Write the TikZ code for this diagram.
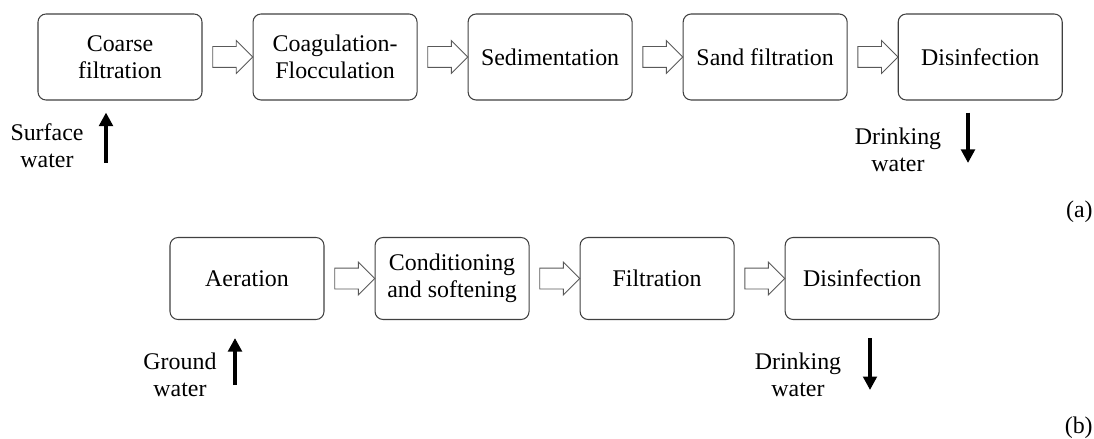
\documentclass[tikz,border=0pt]{standalone}
\usepackage{fontspec}
\setmainfont{Liberation Serif}
\usepackage{tikz}
\usetikzlibrary{arrows.meta, positioning, calc, shapes.arrows}

\begin{document}
\begin{tikzpicture}[
    stage/.style={draw=black!75, rounded corners=0.16cm, minimum width=3.28cm, minimum height=1.72cm,
                  align=center, line width=0.6pt, inner sep=0pt},
    stageb/.style={stage, minimum width=3.08cm, minimum height=1.64cm},
    flowarrow/.style={single arrow, draw=black!65, line width=0.5pt, minimum height=0.8cm,
                      inner xsep=0pt, inner ysep=0.2cm, single arrow head extend=0.12cm},
    waterarrow/.style={-{Triangle[width=0.27cm, length=0.27cm]}, line width=2.4pt, black},
    lbl/.style={align=center, inner sep=0pt},
    font=\fontsize{13.6}{15.5}\selectfont,
]
\useasboundingbox (0,0) rectangle (21.88,-8.78);

% --- Row (a): surface water ---
\node[stage] (coarse) at (2.40,-1.14) {Coarse\\filtration};
\node[stage, right=1cm of coarse] (coag) {Coagulation-\\Flocculation};
\node[stage, right=1cm of coag]   (sedi) {Sedimentation};
\node[stage, right=1cm of sedi]   (sand) {Sand filtration};
\node[stage, right=1cm of sand]   (disa) {Disinfection};

\node[flowarrow] (fa1) at ($(coarse.east)!0.5!(coag.west)$) {};
\node[flowarrow] (fa2) at ($(coag.east)!0.5!(sedi.west)$) {};
\node[flowarrow] (fa3) at ($(sedi.east)!0.5!(sand.west)$) {};
\node[flowarrow] (fa4) at ($(sand.east)!0.5!(disa.west)$) {};

% in / out
\coordinate (swin) at (2.12,-3.26);
\coordinate (dwa) at (19.36,-3.26);
\draw[waterarrow, shorten >=0.24cm] (swin) -- (swin |- coarse.south);
\draw[waterarrow, shorten <=0.24cm] (dwa |- disa.south) -- (dwa);
\node[lbl] (swlbl) at (0.94,-2.92) {Surface\\water};
\node[lbl] (dwalbl) at (17.96,-3.00) {Drinking\\water};
\node[lbl, anchor=east] (taga) at (21.86,-4.24) {(a)};

% --- Row (b): ground water ---
\node[stageb] (aer) at (4.94,-5.57) {Aeration};
\node[stageb, right=1cm of aer]  (cond) {Conditioning\\and softening};
\node[stageb, right=1cm of cond] (filt) {Filtration};
\node[stageb, right=1cm of filt] (disb) {Disinfection};

\node[flowarrow] (fb1) at ($(aer.east)!0.5!(cond.west)$) {};
\node[flowarrow] (fb2) at ($(cond.east)!0.5!(filt.west)$) {};
\node[flowarrow] (fb3) at ($(filt.east)!0.5!(disb.west)$) {};

% in / out
\coordinate (gwin) at (4.70,-7.70);
\coordinate (dwb) at (17.40,-7.80);
\draw[waterarrow, shorten >=0.36cm] (gwin) -- (gwin |- aer.south);
\draw[waterarrow, shorten <=0.36cm] (dwb |- disb.south) -- (dwb);
\node[lbl] (gwlbl) at (3.60,-7.50) {Ground\\water};
\node[lbl] (dwblbl) at (15.96,-7.50) {Drinking\\water};
\node[lbl, anchor=east] (tagb) at (21.86,-8.56) {(b)};

\end{tikzpicture}
\end{document}
